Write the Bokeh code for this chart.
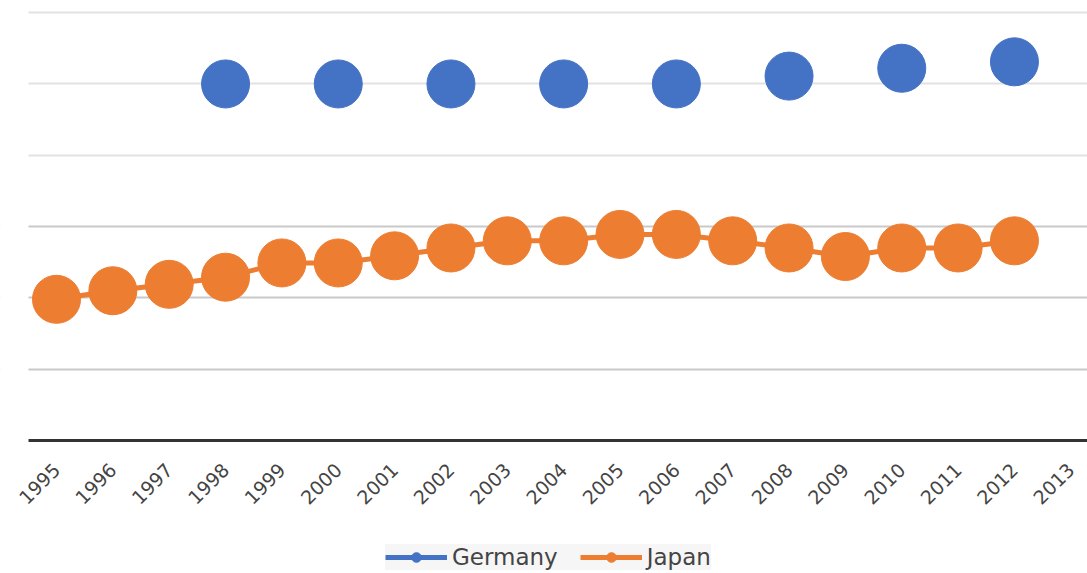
import math
from bokeh.plotting import figure
from bokeh.models import Legend, Grid, FixedTicker, ColumnDataSource, BoxAnnotation
from bokeh.embed import file_html
from bokeh.resources import INLINE

years = list(range(1995, 2013))
tick_years = list(range(1995, 2014))
germany = [float("nan"), float("nan"), float("nan"), 5.00, float("nan"), 5.00, float("nan"), 5.00,
           float("nan"), 5.00, float("nan"), 5.00, float("nan"), 5.11, float("nan"), 5.22, float("nan"), 5.31]
japan = [1.98, 2.10, 2.19, 2.29, 2.49, 2.49, 2.59, 2.70, 2.80, 2.80, 2.89, 2.89, 2.80, 2.70, 2.58, 2.70, 2.70, 2.80]
series_names = ["Germany", "Japan"]
series_colors = ["#4472C4", "#ED7D31"]

PX_PER_UNIT = 71.33
PX_PER_YEAR = 56.35
x_start = 1995 - 56 / PX_PER_YEAR
x_end = 1995 + (1087 - 56) / PX_PER_YEAR
line_start = 1995 - 28 / PX_PER_YEAR

p = figure(width=1087, height=573, output_backend="svg", toolbar_location=None,
           x_range=(x_start, x_end), y_range=(-133 / PX_PER_UNIT, 6.17),
           min_border_left=0, min_border_right=0, min_border_top=0, min_border_bottom=0)
p.outline_line_color = None
p.background_fill_color = "white"
p.border_fill_color = "white"

src = ColumnDataSource(dict(year=years, Germany=germany, Japan=japan))

p.yaxis.visible = False
p.ygrid[0].ticker = FixedTicker(ticks=[4, 5, 6])
p.ygrid[0].grid_line_color = "#e2e2e2"
p.ygrid[0].grid_line_width = 2
p.add_layout(Grid(dimension=1, ticker=FixedTicker(ticks=[1, 2, 3]), grid_line_color="#c9c9c9",
                  grid_line_width=2))
p.xgrid.visible = False
# blank margin to the left of where the grid lines begin
p.add_layout(BoxAnnotation(left=x_start - 1, right=line_start, fill_color="white", fill_alpha=1.0,
                           line_color=None, level="underlay"))

renderers = []
for name, col in zip(series_names, series_colors):
    ln = p.line("year", name, source=src, line_color=col, line_width=5)
    sc = p.scatter("year", name, source=src, size=48, fill_color=col, line_color=col)
    renderers.append((name, [ln, sc]))

xa = p.xaxis[0]
xa.fixed_location = 0
xa.bounds = (line_start, x_end)
xa.ticker = FixedTicker(ticks=tick_years)
xa.major_label_orientation = math.pi / 4
xa.major_label_text_font = "DejaVu Sans"
xa.major_label_text_font_size = "19px"
xa.major_label_text_color = "#444444"
xa.major_tick_line_color = None
xa.minor_tick_line_color = None
xa.axis_line_color = "#333333"
xa.axis_line_width = 3
xa.major_label_standoff = 20

legend = Legend(items=renderers, orientation="horizontal", location=(385, 3),
                label_text_font="DejaVu Sans", label_text_font_size="23px", label_text_color="#444444",
                glyph_width=62, glyph_height=24, spacing=22, padding=8, margin=0,
                background_fill_color="#f6f6f6", border_line_color=None, label_standoff=5)
p.add_layout(legend, "center")

open("out.html", "w").write(file_html(p, INLINE))
